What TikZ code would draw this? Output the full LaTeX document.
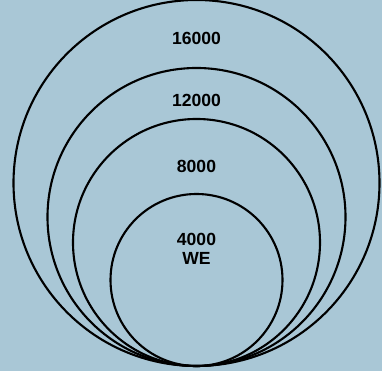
\documentclass[tikz,border=0pt]{standalone}
\usepackage{fontspec}
\setmainfont{Liberation Sans}
\usetikzlibrary{calc}
\definecolor{bgblue}{HTML}{A9C7D6}
\tikzset{
    ring/.style={draw=black, line width=1.5pt},
    ringlabel/.style={font=\fontsize{12.5}{13}\selectfont\bfseries, align=center}
}
\begin{document}
\begin{tikzpicture}

    % Background
    \fill[bgblue] (0,0) rectangle (9.55,9.275);
    \useasboundingbox (0,0) rectangle (9.55,9.275);

    % Common touching point at the bottom
    \coordinate (base) at (4.9125,0.125);

    %========================
    % Rings
    %========================
    \foreach \r in {4.575,3.725,3.0875,2.15} {
        \draw[ring] ($(base)+(0,\r)$) circle[radius=\r];
    }

    %========================
    % Labels
    %========================
    \node[ringlabel] (lab16) at (4.9125,8.325) {16000};
    \node[ringlabel] (lab12) at (4.9125,6.775) {12000};
    \node[ringlabel] (lab8) at (4.9125,5.125) {8000};
    \node[ringlabel] (lab4) at (4.9125,3.05) {4000\\WE};

\end{tikzpicture}
\end{document}
